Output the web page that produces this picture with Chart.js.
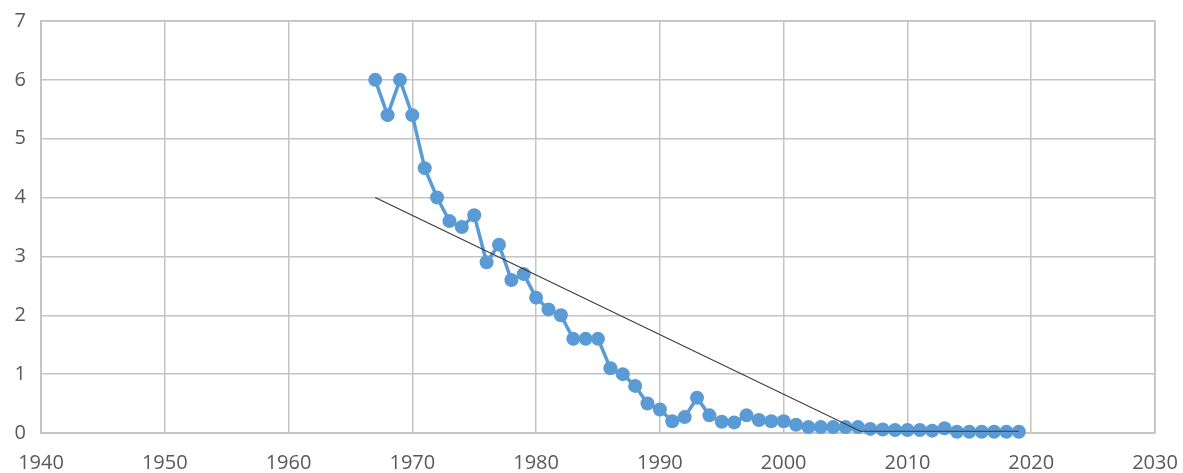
<!DOCTYPE html>
<html>
<head>
<meta charset="utf-8">
<script src="https://cdn.jsdelivr.net/npm/chart.js@4/dist/chart.umd.min.js"></script>
<style>
  html, body { margin: 0; padding: 0; background: #ffffff; }
  #wrap { width: 1183px; height: 473px; position: relative; }
</style>
</head>
<body>
<div id="wrap"><canvas id="c" width="1183" height="473"></canvas></div>
<script>
const years = [1967,1968,1969,1970,1971,1972,1973,1974,1975,1976,1977,1978,1979,1980,1981,1982,1983,1984,1985,1986,1987,1988,1989,1990,1991,1992,1993,1994,1995,1996,1997,1998,1999,2000,2001,2002,2003,2004,2005,2006,2007,2008,2009,2010,2011,2012,2013,2014,2015,2016,2017,2018,2019];
const values = [6.0,5.4,6.0,5.4,4.5,4.0,3.6,3.5,3.7,2.9,3.2,2.6,2.7,2.3,2.1,2.0,1.6,1.6,1.6,1.1,1.0,0.8,0.5,0.4,0.2,0.27,0.6,0.3,0.19,0.18,0.3,0.22,0.2,0.2,0.14,0.1,0.1,0.1,0.1,0.1,0.07,0.06,0.05,0.05,0.05,0.04,0.08,0.02,0.02,0.02,0.02,0.02,0.02];
const trendYears = [1967, 2006.2, 2019];
const trendValues = [4.0, 0.03, 0.03];
const xTicks = [1940,1950,1960,1970,1980,1990,2000,2010,2020,2030];
const yTicks = [0,1,2,3,4,5,6,7];

const mainPts = years.map((y, i) => ({ x: y, y: values[i] }));
const trendPts = trendYears.map((y, i) => ({ x: y, y: trendValues[i] }));

const gridColor = '#c4c4c4';
const labelColor = '#595959';
const font = { family: 'Open Sans', size: 20 };

const chart = new Chart(document.getElementById('c'), {
  type: 'scatter',
  data: {
    datasets: [
      {
        label: 'Trend',
        data: trendPts,
        showLine: true,
        borderColor: '#3a3a3a',
        borderWidth: 1.2,
        pointRadius: 0,
        pointHoverRadius: 0,
        clip: false,
        order: 0
      },
      {
        label: 'Series',
        data: mainPts,
        showLine: true,
        borderColor: '#5b9bd5',
        borderWidth: 3.5,
        pointRadius: 7,
        pointBackgroundColor: '#5b9bd5',
        pointBorderColor: '#5b9bd5',
        pointBorderWidth: 0,
        clip: false,
        order: 1
      }
    ]
  },
  options: {
    responsive: false,
    animation: false,
    layout: { padding: { left: 0, right: 28, top: 21, bottom: 0 } },
    plugins: { legend: { display: false }, tooltip: { enabled: false } },
    scales: {
      x: {
        type: 'linear',
        min: 1940,
        max: 2030,
        afterBuildTicks: (ax) => { ax.ticks = xTicks.map(v => ({ value: v })); },
        afterFit: (ax) => { ax.height = 40; ax.paddingLeft = 0; ax.paddingRight = 0; },
        grid: { color: gridColor, lineWidth: 1.5, drawTicks: false },
        border: { color: gridColor, width: 1.5 },
        ticks: {
          color: labelColor,
          font: font,
          padding: 18,
          maxRotation: 0,
          autoSkip: false,
          callback: (v) => String(v)
        }
      },
      y: {
        type: 'linear',
        min: 0,
        max: 7,
        afterBuildTicks: (ax) => { ax.ticks = yTicks.map(v => ({ value: v })); },
        afterFit: (ax) => { ax.width = 41; ax.paddingTop = 0; ax.paddingBottom = 0; },
        grid: { color: gridColor, lineWidth: 1.5, drawTicks: false },
        border: { color: gridColor, width: 1.5 },
        ticks: {
          color: labelColor,
          font: font,
          padding: 15,
          callback: (v) => String(v)
        }
      }
    }
  },
  plugins: [{
    id: 'frame',
    beforeDatasetsDraw(chart) {
      const { ctx, chartArea: a } = chart;
      ctx.save();
      ctx.strokeStyle = gridColor;
      ctx.lineWidth = 1.5;
      ctx.strokeRect(a.left, a.top, a.right - a.left, a.bottom - a.top);
      ctx.restore();
    }
  }]
});
</script>
</body>
</html>
